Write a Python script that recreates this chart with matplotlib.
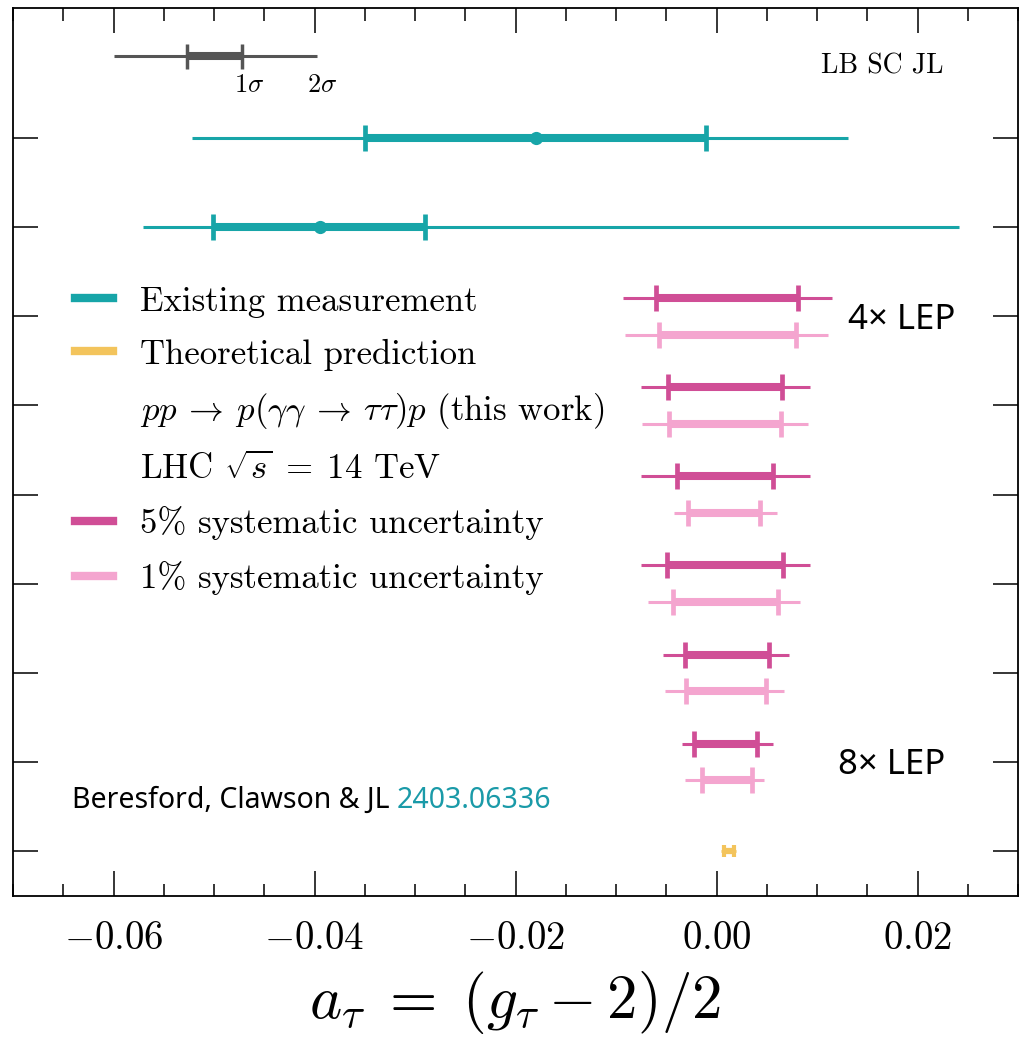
import matplotlib
matplotlib.use("Agg")
import matplotlib.pyplot as plt
from matplotlib.lines import Line2D
from matplotlib.ticker import MultipleLocator

plt.rcParams['font.family'] = ['cmr10', 'DejaVu Serif']
plt.rcParams['mathtext.fontset'] = 'cm'
plt.rcParams['axes.formatter.use_mathtext'] = True

# ---------------- data ----------------
# existing measurements (top two rows)
exist_center = [-0.0180, -0.0395]
exist_lo1 = [-0.0350, -0.0501]
exist_hi1 = [-0.0010, -0.0290]
exist_lo2 = [-0.0522, -0.0571]
exist_hi2 = [0.0131, 0.0241]

# projections, 5% systematic (rows from top to bottom)
sys5_lo2 = [-0.0093, -0.0075, -0.0075, -0.0075, -0.0053, -0.0034]
sys5_lo1 = [-0.0060, -0.0048, -0.0039, -0.0049, -0.0031, -0.0022]
sys5_hi1 = [0.0081, 0.0065, 0.0056, 0.0066, 0.0052, 0.0040]
sys5_hi2 = [0.0115, 0.0093, 0.0093, 0.0093, 0.0072, 0.0056]

# projections, 1% systematic
sys1_lo2 = [-0.0091, -0.0074, -0.0042, -0.0068, -0.0051, -0.0031]
sys1_lo1 = [-0.0057, -0.0047, -0.0028, -0.0043, -0.0030, -0.0014]
sys1_hi1 = [0.0079, 0.0064, 0.0043, 0.0061, 0.0049, 0.0035]
sys1_hi2 = [0.0111, 0.0091, 0.0060, 0.0083, 0.0067, 0.0047]

# theory prediction
theory_center = 0.00118
theory_lo1 = 0.0007
theory_hi1 = 0.0017
theory_lo2 = 0.0004
theory_hi2 = 0.0019

# sigma key
key_center = -0.0500
key_lo1 = -0.0527
key_hi1 = -0.0472
key_lo2 = -0.0600
key_hi2 = -0.0398

TEAL = '#17a5a8'
YELLOW = '#f3c45c'
PINK5 = '#d04e96'
PINK1 = '#f4a5cf'
GREY = '#555555'

fig = plt.figure(figsize=(10.22, 10.44), dpi=100)
ax = fig.add_axes([13/1022, 1-896/1044, 1005/1022, 888/1044])


def interval(y, lo2, lo1, hi1, hi2, color, center=None,
             lw_thin=2.2, lw_thick=5.8, capsize=9.6, capthick=3.4):
    mid = 0.5 * (lo1 + hi1)
    ax.errorbar([mid], [y], xerr=[[mid - lo2], [hi2 - mid]], fmt='none',
                ecolor=color, elinewidth=lw_thin, capsize=0)
    ax.errorbar([mid], [y], xerr=[[mid - lo1], [hi1 - mid]], fmt='none',
                ecolor=color, elinewidth=lw_thick, capsize=capsize,
                capthick=capthick)
    if center is not None:
        ax.plot([center], [y], 'o', color=color, ms=9.5, mew=0)


n_exist = len(exist_center)
n_proj = len(sys5_lo1)
top = n_proj + n_exist  # 8

for i in range(n_exist):
    interval(top - i, exist_lo2[i], exist_lo1[i], exist_hi1[i], exist_hi2[i],
             TEAL, center=exist_center[i])

off = 0.205
for i in range(n_proj):
    y = n_proj - i
    interval(y + off, sys5_lo2[i], sys5_lo1[i], sys5_hi1[i], sys5_hi2[i], PINK5)
    interval(y - off, sys1_lo2[i], sys1_lo1[i], sys1_hi1[i], sys1_hi2[i], PINK1)

interval(0, theory_lo2, theory_lo1, theory_hi1, theory_hi2, YELLOW,
         lw_thin=2.0, lw_thick=4.5, capsize=4.5, capthick=3.0)

# sigma key
key_y = top + 0.92
interval(key_y, key_lo2, key_lo1, key_hi1, key_hi2, GREY,
         lw_thin=2.2, lw_thick=5.8, capsize=9.0, capthick=2.5)
ax.text(key_hi1 + 0.0007, key_y - 0.33, r'$1\sigma$', fontsize=19,
        ha='center', va='center')
ax.text(key_hi2 + 0.0006, key_y - 0.33, r'$2\sigma$', fontsize=19,
        ha='center', va='center')

ax.set_xlim(-0.07, 0.03)
ax.set_ylim(-0.505, 9.46)
ax.set_yticks(range(0, top + 1))
ax.tick_params(axis='y', which='both', direction='in', length=18, width=1.1,
               left=True, right=True, labelleft=False)
ax.xaxis.set_major_locator(MultipleLocator(0.02))
ax.xaxis.set_minor_locator(MultipleLocator(0.005))
ax.tick_params(axis='x', which='major', direction='in', length=18, width=1.1,
               top=True, bottom=True, labelsize=28, pad=18)
ax.tick_params(axis='x', which='minor', direction='in', length=9, width=1.1,
               top=True, bottom=True)
for s in ax.spines.values():
    s.set_linewidth(1.3)

ax.set_xlabel(r'$a_\tau \;=\; (g_\tau - 2)/2$', fontsize=44, labelpad=9)

# legend
handles = [
    Line2D([], [], color=TEAL, lw=6),
    Line2D([], [], color=YELLOW, lw=6),
    Line2D([], [], color='none', lw=0),
    Line2D([], [], color='none', lw=0),
    Line2D([], [], color=PINK5, lw=6),
    Line2D([], [], color=PINK1, lw=6),
]
labels = [
    'Existing measurement',
    'Theoretical prediction',
    r'$pp \:\to\: p(\gamma\gamma \:\to\: \tau\tau)p$ (this work)',
    r'LHC $\sqrt{s}\;=\;14$ TeV',
    '5% systematic uncertainty',
    '1% systematic uncertainty',
]
ax.legend(handles, labels, loc='upper left',
          bbox_to_anchor=(62/1005, (896-286)/888), frameon=False,
          fontsize=25, handlelength=1.1, handletextpad=0.78,
          labelspacing=0.6, borderpad=0, borderaxespad=0)

ax.text(0.926, 0.934, 'LB SC JL', transform=ax.transAxes, fontsize=20,
        ha='right', va='center')

sans = ['Noto Sans', 'DejaVu Sans']
ax.text(0.0131, n_proj - 0.04, '4× LEP', fontsize=25, family=sans,
        ha='left', va='center')
ax.text(0.0121, 1 - 0.04, '8× LEP', fontsize=25, family=sans,
        ha='left', va='center')
t = ax.text(59/1005, (896-800)/888, 'Beresford, Clawson & JL ',
            transform=ax.transAxes, fontsize=20.5, family=sans,
            ha='left', va='center')
ax.annotate('2403.06336', xy=(1, 0), xycoords=t, va='bottom', ha='left',
            fontsize=20.5, family=sans, color='#1a9aa8')

fig.savefig('out.png', dpi=100)
